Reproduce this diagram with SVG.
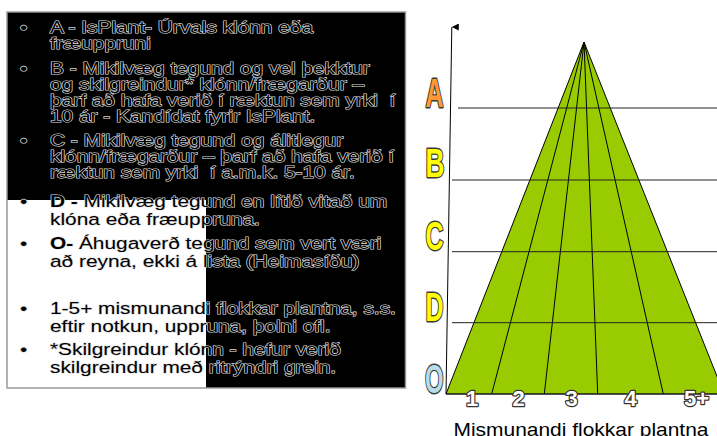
<svg xmlns="http://www.w3.org/2000/svg" width="717" height="436" viewBox="0 0 717 436">
<defs>
<style>
.t{font-family:"Liberation Sans",Arial,sans-serif;font-size:17px;fill:#000;stroke:#e0e0e0;stroke-width:1.2px;paint-order:stroke fill;}
.b{font-weight:bold;}
.lbl{font-family:"Liberation Sans",Arial,sans-serif;font-weight:bold;font-size:29px;stroke:#3a3a3a;stroke-width:2px;stroke-linejoin:round;paint-order:stroke fill;}
.num{font-family:"Liberation Sans",Arial,sans-serif;font-weight:bold;font-size:22px;fill:#fff;stroke:#333;stroke-width:2.4px;stroke-linejoin:round;paint-order:stroke fill;text-anchor:middle;}
.hl{stroke:#222;stroke-width:1;fill:none;}
.fan{stroke:#000;stroke-width:1;fill:none;}
.cap{font-family:"Liberation Sans",Arial,sans-serif;font-size:19px;fill:#000;}
</style>
<marker id="arr" viewBox="0 0 10 10" refX="5" refY="0" markerWidth="7" markerHeight="8" markerUnits="userSpaceOnUse" orient="auto-start-reverse">
<path d="M0,10 L5,0 L10,10 Z" fill="#000"/>
</marker>
</defs>
<rect width="717" height="436" fill="#fff"/>

<g id="textbox">
<rect x="7" y="12" width="398.5" height="376" fill="#fff"/>
<polygon points="7,12 405.5,12 405.5,388 206,388 206,200 7,200" fill="#000"/>
<rect x="7" y="12" width="398.5" height="376" fill="none" stroke="#999" stroke-width="1.5"/>
<g transform="translate(50,0) scale(1.227,1)">
<text class="t" x="-24.4" y="33">•</text>
<text class="t" x="0" y="33">A - IsPlant- Úrvals klónn eða</text>
<text class="t" x="0" y="49">fræuppruni</text>
<text class="t" x="-24.4" y="74">•</text>
<text class="t" x="0" y="74">B - Mikilvæg tegund og vel þekktur</text>
<text class="t" x="0" y="90">og skilgreindur* klónn/frægarður –</text>
<text class="t" x="0" y="106" xml:space="preserve">þarf að hafa verið í ræktun sem yrki  í</text>
<text class="t" x="0" y="122">10 ár - Kandídat fyrir IsPlant.</text>
<text class="t" x="-24.4" y="146">•</text>
<text class="t" x="0" y="146">C - Mikilvæg tegund og álitlegur</text>
<text class="t" x="0" y="162">klónn/frægarður – þarf að hafa verið í</text>
<text class="t" x="0" y="178" xml:space="preserve">ræktun sem yrki  í a.m.k. 5-10 ár.</text>
<text class="t" x="-24.4" y="207">•</text>
<text class="t" x="0" y="207" xml:space="preserve"><tspan class="b">D - </tspan>Mikilvæg tegund en lítið vitað um</text>
<text class="t" x="0" y="225">klóna eða fræuppruna.</text>
<text class="t" x="-24.4" y="249">•</text>
<text class="t" x="0" y="249" xml:space="preserve"><tspan class="b">O-</tspan> Áhugaverð tegund sem vert væri</text>
<text class="t" x="0" y="267">að reyna, ekki á lista (Heimasíðu)</text>
<text class="t" x="-24.4" y="314">•</text>
<text class="t" x="0" y="314">1-5+ mismunandi flokkar plantna, s.s.</text>
<text class="t" x="0" y="332">eftir notkun, uppruna, þolni ofl.</text>
<text class="t" x="-24.4" y="355">•</text>
<text class="t" x="0" y="355">*Skilgreindur klónn - hefur verið</text>
<text class="t" x="0" y="373">skilgreindur með ritrýndri grein.</text>
</g>
</g>

<g id="pyramid">
<polygon points="584,42 446,394 724,394" fill="#99CC00" stroke="#000" stroke-width="1"/>
</g>

<g id="connectors">
<line class="fan" x1="584" y1="42" x2="491.7" y2="394"/>
<line class="fan" x1="584" y1="42" x2="544.3" y2="394"/>
<line class="fan" x1="584" y1="42" x2="597.7" y2="394"/>
<line class="fan" x1="584" y1="42" x2="663.3" y2="394"/>
<line class="hl" x1="458" y1="108" x2="717" y2="108"/>
<line class="hl" x1="452" y1="180" x2="717" y2="180"/>
<line class="hl" x1="452" y1="251.7" x2="717" y2="251.7"/>
<line class="hl" x1="452" y1="322.7" x2="717" y2="322.7"/>
<line class="hl" x1="446" y1="394" x2="717" y2="394"/>
<line stroke="#000" stroke-width="1" x1="446" y1="394" x2="451.8" y2="27" marker-end="url(#arr)"/>
</g>

<g id="levels">
<text class="lbl" transform="translate(425.5,107) scale(1,1.4)" fill="#FF9933" textLength="18" lengthAdjust="spacingAndGlyphs">A</text>
<text class="lbl" transform="translate(425.5,176.5) scale(1,1.4)" fill="#FFFF00" textLength="19" lengthAdjust="spacingAndGlyphs">B</text>
<text class="lbl" transform="translate(425.5,250) scale(1,1.4)" fill="#FFFF00" textLength="18" lengthAdjust="spacingAndGlyphs">C</text>
<text class="lbl" transform="translate(425.5,321) scale(1,1.4)" fill="#FFFF00" textLength="18" lengthAdjust="spacingAndGlyphs">D</text>
<text class="lbl" transform="translate(425,393) scale(1,1.4)" fill="#B7DDE8" textLength="18.5" lengthAdjust="spacingAndGlyphs">O</text>
</g>

<g id="categories">
<text class="num" x="472" y="406">1</text>
<text class="num" x="518.5" y="406">2</text>
<text class="num" x="571.5" y="406">3</text>
<text class="num" x="630.5" y="406">4</text>
<text class="num" x="696.5" y="406">5+</text>
<text class="cap" x="453.5" y="435.5" textLength="255" lengthAdjust="spacingAndGlyphs">Mismunandi flokkar plantna</text>
</g>
</svg>
